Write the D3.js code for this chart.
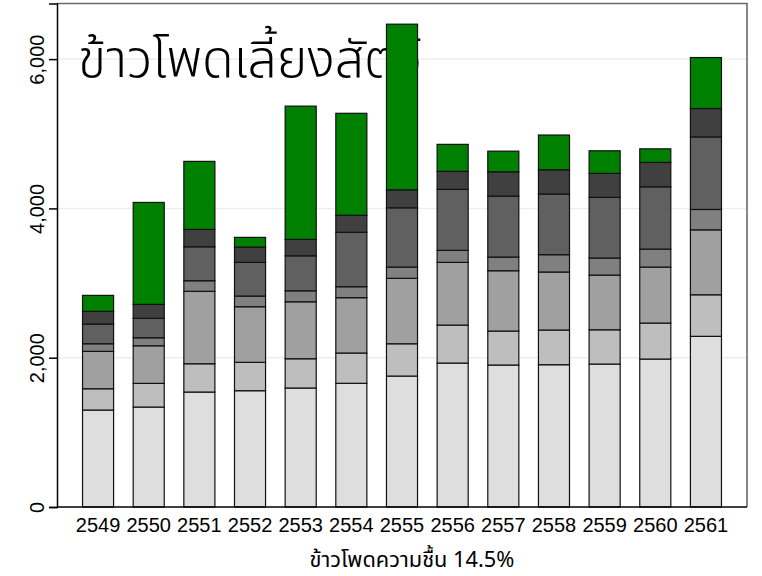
<!DOCTYPE html>
<html><head><meta charset="utf-8">
<script src="https://cdn.jsdelivr.net/npm/d3@7"></script>
<style>body{margin:0;background:#fff}svg{display:block}</style>
</head><body><svg id="c" width="762" height="576"></svg>
<script>
const years = ["2549","2550","2551","2552","2553","2554","2555","2556","2557","2558","2559","2560","2561"];
const seg1 = [1299,1339,1540,1558,1594,1657,1754,1928,1902,1906,1915,1982,2286];
const seg2 = [285,317,379,380,392,406,433,509,455,465,459,482,557];
const seg3 = [501,504,970,745,763,741,876,840,808,777,733,750,870];
const seg4 = [102,107,142,143,147,147,151,161,183,232,228,241,273];
const seg5 = [264,260,455,451,469,729,794,817,817,813,813,834,972];
const seg6 = [170,187,233,205,220,228,241,241,325,325,321,327,380];
const seg7 = [214,1366,911,130,1785,1366,2219,362,277,465,303,182,683];
const yTicks = [0,2000,4000,6000];
const titleText = "ข้าวโพดเลี้ยงสัตว์";
const xTitleText = "ข้าวโพดความชื้น 14.5%";

const keys = ["seg1","seg2","seg3","seg4","seg5","seg6","seg7"];
const colors = ["#dedede","#bebebe","#a0a0a0","#808080","#606060","#404040","#008000"];
const series = [seg1,seg2,seg3,seg4,seg5,seg6,seg7];
const table = years.map((y,i)=>{const o={year:y}; keys.forEach((k,j)=>o[k]=series[j][i]); return o;});

const svg = d3.select("#c");
const L=57, R=747, T=3.5, B=507;
const x = d3.scaleBand().domain(years).range([L,R]).paddingInner(0.387).paddingOuter(0.504);
const y = d3.scaleLinear().domain([0,6745]).range([B,T]);
const latin = "'Liberation Sans',Arial,Helvetica,sans-serif";
const thai = "'Noto Sans Thai','Noto Sans Thai UI','Loma','Garuda','Noto Sans',sans-serif";

// gridlines
svg.append("g").selectAll("line").data(yTicks.filter(d=>d>0)).join("line")
  .attr("x1",L).attr("x2",R).attr("y1",d=>y(d)).attr("y2",d=>y(d))
  .attr("stroke","#e9efef").attr("stroke-width",1.5);

// title (under bars)
const tt = svg.append("text").attr("x",78).attr("y",77)
  .style("font-family",thai).style("font-size","56px").style("font-weight","300")
  .attr("fill","#000").text(titleText);
const tw = tt.node().getComputedTextLength();
if (tw>0) tt.style("font-size",(56*344/tw)+"px");

// bars
const stack = d3.stack().keys(keys)(table);
svg.append("g").selectAll("g").data(stack).join("g")
  .attr("fill",(d,i)=>colors[i])
  .selectAll("rect").data(d=>d).join("rect")
  .attr("x",d=>x(d.data.year)).attr("width",x.bandwidth())
  .attr("y",d=>y(d[1])).attr("height",d=>y(d[0])-y(d[1]))
  .attr("stroke","#111").attr("stroke-width",1.2);

// frame top/right
svg.append("path").attr("d",`M${L},${T}H${R}V${B}`).attr("fill","none")
  .attr("stroke","#6a6a6a").attr("stroke-width",1.6);

// y axis
const ya = svg.append("g").attr("transform",`translate(${L},0)`)
  .call(d3.axisLeft(y).tickValues(yTicks).tickSize(8).tickFormat(d3.format(",")));
ya.attr("font-size",null).attr("font-family",null);
ya.select(".domain").attr("stroke","#000").attr("stroke-width",1.5);
ya.selectAll(".tick line").attr("stroke","#000").attr("stroke-width",1.5);
ya.selectAll(".tick text")
  .style("font-family",latin).style("font-size","20px").attr("fill","#000")
  .attr("x",0).attr("y",0).attr("dy","0")
  .attr("text-anchor","middle")
  .attr("transform","translate(-13,0) rotate(-90)");

// x axis
const xa = svg.append("g").attr("transform",`translate(0,${B})`)
  .call(d3.axisBottom(x).tickSize(0).tickPadding(0));
xa.attr("font-size",null).attr("font-family",null);
xa.select(".domain").attr("stroke","#000").attr("stroke-width",1.5).attr("d",`M${L},0H${R}`);
xa.selectAll(".tick text")
  .style("font-family",latin).style("font-size","20px").attr("fill","#000")
  .attr("dy",null).attr("y",25);

// x title
const xt = svg.append("text").attr("x",412).attr("y",567).attr("text-anchor","middle")
  .style("font-family",thai).style("font-size","20px").attr("fill","#000").text(xTitleText);
const xw = xt.node().getComputedTextLength();
if (xw>0) xt.style("font-size",(20*205/xw)+"px");
</script></body></html>
